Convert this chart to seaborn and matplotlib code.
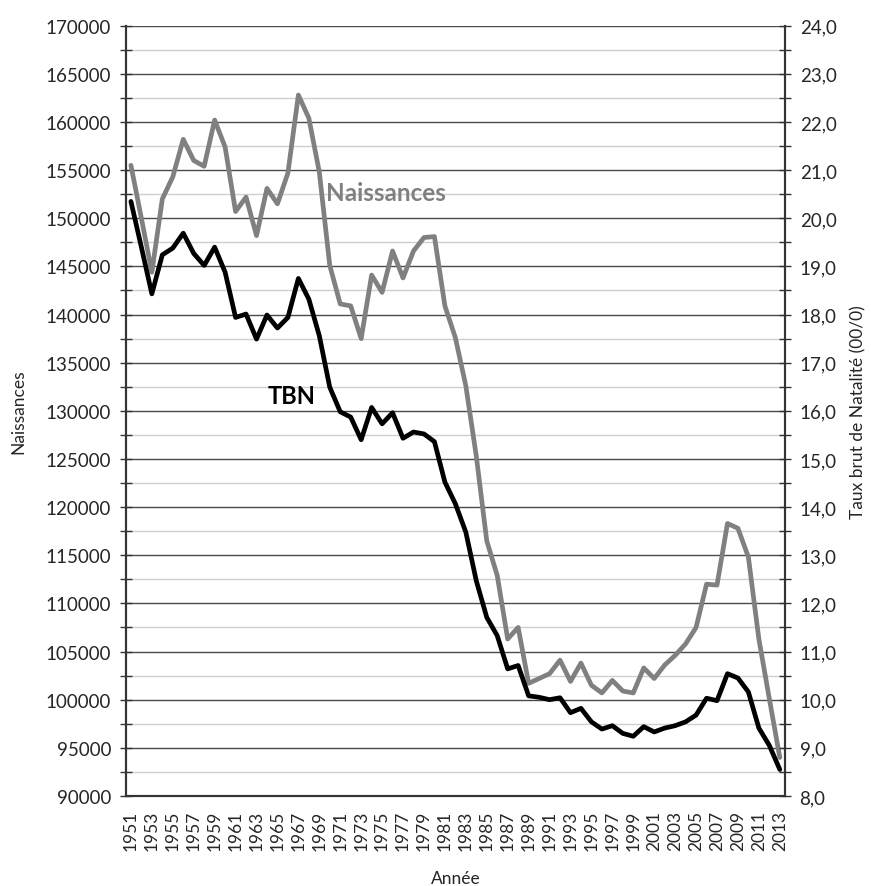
import numpy as np
import pandas as pd
import matplotlib
matplotlib.use("Agg")
import matplotlib.pyplot as plt
from matplotlib.ticker import MultipleLocator, FuncFormatter
import seaborn as sns

# data
years = list(range(1951, 2014))
naissances = [155500, 150000, 144400, 152000, 154300, 158200, 156000, 155400, 160200, 157400,
              150700, 152200, 148200, 153100, 151500, 154700, 162800, 160400, 154800, 145100,
              141100, 140900, 137500, 144100, 142300, 146600, 143800, 146600, 148000, 148100,
              140900, 137600, 132600, 125300, 116500, 112900, 106300, 107500, 101700, 102200,
              102700, 104100, 101900, 103800, 101500, 100700, 102000, 100900, 100700, 103300,
              102200, 103600, 104600, 105800, 107500, 112000, 111900, 118300, 117800, 114800,
              106300, 100100, 94000]
tbn = [20.35, 19.40, 18.43, 19.24, 19.38, 19.69, 19.27, 19.02, 19.40, 18.88,
       17.94, 18.01, 17.49, 17.99, 17.72, 17.94, 18.75, 18.32, 17.56, 16.49,
       15.98, 15.87, 15.40, 16.07, 15.73, 15.96, 15.43, 15.56, 15.52, 15.36,
       14.52, 14.07, 13.48, 12.47, 11.71, 11.33, 10.64, 10.71, 10.08, 10.05,
       10.00, 10.04, 9.73, 9.82, 9.54, 9.39, 9.46, 9.30, 9.24, 9.44,
       9.33, 9.41, 9.46, 9.54, 9.68, 10.03, 9.98, 10.54, 10.45, 10.16,
       9.41, 9.05, 8.55]
year_labels = years[::2]

df = pd.DataFrame({"Année": years, "Naissances": naissances, "TBN": tbn})

sns.set_style("white")
plt.rcParams['font.family'] = ['Lato', 'DejaVu Sans']

fig = plt.figure(figsize=(8.71, 8.87), dpi=100)
ax = fig.add_axes([0.1443, 0.1015, 0.9013 - 0.1443, 0.9699 - 0.1015])
ax2 = ax.twinx()

# gridlines first (drawn under lines)
ax.set_ylim(90000, 170000)
ax.yaxis.set_major_locator(MultipleLocator(5000))
ax.yaxis.set_minor_locator(MultipleLocator(2500))
ax.grid(True, which="major", axis="y", color="#4a4a4a", lw=1.0)
ax.grid(True, which="minor", axis="y", color="#cfcfcf", lw=1.0)
ax.grid(False, axis="x")
ax.set_axisbelow(True)

sns.lineplot(data=df, x="Année", y="Naissances", ax=ax, color="#808080", lw=3.4)
sns.lineplot(data=df, x="Année", y="TBN", ax=ax2, color="black", lw=3.4)

ax.set_xlim(1950.5, 2013.5)
ax.set_xticks(year_labels)
ax.set_xticklabels([str(y) for y in year_labels], rotation=90, fontsize=12.5)
ax.set_xticks(np.arange(1950.5, 2014, 1), minor=True)
ax.tick_params(axis="x", which="major", length=0, pad=10)
ax.tick_params(axis="x", which="minor", direction="inout", length=9, width=1, color="#333333")

ax.tick_params(axis="y", which="both", direction="inout", length=9, width=1, color="#333333",
               labelsize=13.5, pad=6)
ax.yaxis.set_major_formatter(FuncFormatter(lambda v, p: f"{int(v)}"))

ax2.set_ylim(8, 24)
ax2.yaxis.set_major_locator(MultipleLocator(1))
ax2.yaxis.set_minor_locator(MultipleLocator(0.5))
ax2.yaxis.set_major_formatter(FuncFormatter(lambda v, p: f"{v:.1f}".replace(".", ",")))
ax2.tick_params(axis="y", which="both", direction="inout", length=9, width=1, color="#333333",
                labelsize=13.5, pad=6)
ax2.grid(False)

for a in (ax, ax2):
    a.spines["top"].set_visible(False)
    for s in ("left", "right", "bottom"):
        a.spines[s].set_color("#333333")
        a.spines[s].set_linewidth(1.5)

ax.set_xlabel("Année", fontsize=12.5, labelpad=14)
ax.set_ylabel("Naissances", fontsize=12.5, labelpad=14)
ax2.set_ylabel("Taux brut de Natalité (00/0)", fontsize=12.5, labelpad=10)

ax.text(1969.6, 152700, "Naissances", color="#808080", fontsize=17.5, fontweight="bold",
        ha="left", va="center")
ax.text(1964.1, 131550, "TBN", color="black", fontsize=17, fontweight="bold",
        ha="left", va="center")

plt.savefig("out.png", dpi=100)
